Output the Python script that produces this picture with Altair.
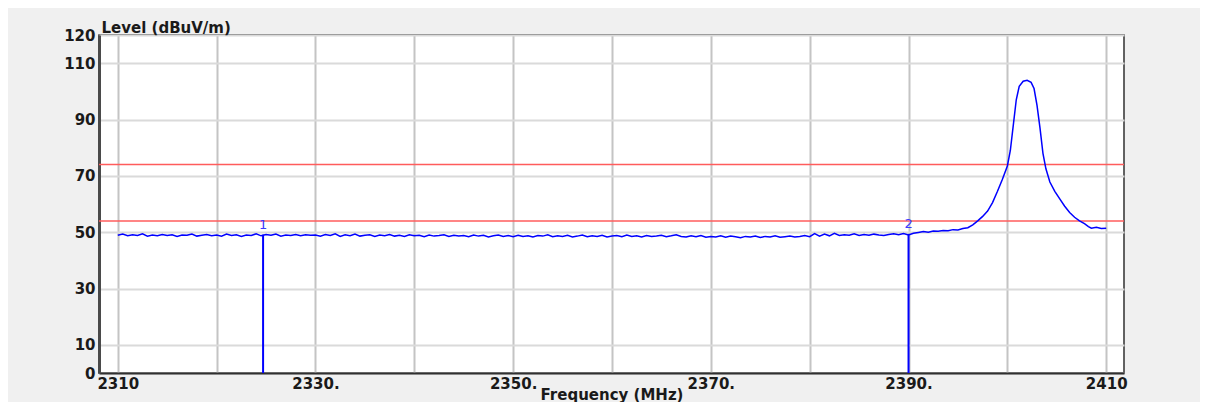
import altair as alt
import pandas as pd

# ---------------- data ----------------
# baseline trace, 2310.0 .. 2395.5 MHz every 0.5 MHz
base_start = 2310.0
base_step = 0.5
base_levels = [
    48.9, 49.3, 48.7, 49.1, 48.8, 49.4, 48.6, 49.0, 48.7, 49.2,
    48.8, 49.1, 48.5, 49.0, 48.9, 49.3, 48.6, 48.9, 49.2, 48.7,
    49.0, 48.6, 49.3, 48.8, 49.1, 48.5, 49.0, 48.8, 49.4, 48.7,
    49.2, 48.9, 49.3, 48.6, 49.0, 48.8, 49.2, 48.7, 49.1, 48.9,
    49.0, 48.6, 49.2, 48.8, 49.4, 48.5, 49.1, 48.7, 49.3, 48.6,
    48.9, 49.1, 48.5, 49.0, 48.7, 49.2, 48.6, 48.9, 48.5, 49.1,
    48.7, 48.9, 48.4, 49.0, 48.6, 48.8, 49.1, 48.5, 48.9, 48.6,
    48.8, 48.4, 49.0, 48.6, 48.9, 48.3, 48.7, 49.0, 48.5, 48.8,
    48.4, 48.9, 48.5, 48.7, 48.3, 48.8, 48.6, 49.1, 48.4, 48.7,
    48.5, 48.9, 48.3, 48.6, 49.0, 48.4, 48.7, 48.5, 48.9, 48.3,
    48.6, 48.8, 48.4, 49.0, 48.5, 48.7, 48.3, 48.8, 48.5, 48.6,
    48.9, 48.4, 48.7, 49.1, 48.5, 48.3, 48.7, 48.4, 48.8, 48.2,
    48.5, 48.3, 48.7, 48.2, 48.6, 48.4, 48.0, 48.5, 48.3, 48.6,
    48.1, 48.5, 48.3, 48.7, 48.2, 48.4, 48.6, 48.3, 48.5, 48.8,
    48.4, 49.5, 48.6, 49.3, 48.7, 49.6, 48.8, 49.1, 48.9, 49.4,
    48.8, 49.2, 48.9, 49.3, 49.0, 48.8, 49.2, 49.4, 49.1, 49.5,
    49.0, 49.6, 49.9, 50.2, 50.0, 50.4, 50.3, 50.6, 50.5, 50.9,
    50.8, 51.3,
]
# signal region
peak_freq = [2396.0, 2396.5, 2397.0, 2397.5, 2398.0, 2398.5, 2399.0, 2399.5,
             2400.0, 2400.3, 2400.6, 2400.9, 2401.2, 2401.6, 2402.0, 2402.4,
             2402.7, 2403.0, 2403.3, 2403.6, 2403.9, 2404.3, 2404.8, 2405.3,
             2405.8, 2406.3, 2406.8, 2407.3, 2407.8, 2408.2, 2408.5, 2409.0,
             2409.5, 2410.0]
peak_level = [51.6, 52.6, 54.0, 55.6, 57.5, 60.5, 64.5, 68.8,
              73.5, 79.0, 88.0, 97.0, 101.8, 103.6, 103.9, 103.2,
              101.0, 95.0, 87.0, 78.0, 72.5, 67.8, 64.5, 61.8,
              59.2, 57.0, 55.3, 54.0, 53.0, 52.0, 51.4, 51.7,
              51.3, 51.4]

limit_levels = [74, 54]

marker_names = ["1", "2"]
marker_freq = [2324.7, 2390.0]
marker_level = [49.1, 49.4]

x_grid_values = [2310, 2320, 2330, 2340, 2350, 2360, 2370, 2380, 2390, 2400, 2410]
x_label_values = [2310, 2330, 2350, 2370, 2390, 2410]
x_label_texts = ["2310", "2330.", "2350.", "2370.", "2390.", "2410"]
y_tick_values = [0, 10, 30, 50, 70, 90, 110, 120]

x_domain = [2308.1, 2411.8]
y_domain = [0, 120]

# ---------------- tables ----------------
freqs = [base_start + i * base_step for i in range(len(base_levels))] + peak_freq
levels = base_levels + peak_level
trace = pd.DataFrame({"f": freqs, "level": levels})
limits = pd.DataFrame({"level": limit_levels})
markers = pd.DataFrame({"name": marker_names, "f": marker_freq, "level": marker_level, "zero": [0, 0]})

label_expr = "''"
for v, t in zip(reversed(x_label_values), reversed(x_label_texts)):
    label_expr = f"datum.value == {v} ? '{t}' : ({label_expr})"

FONT = "DejaVu Sans"

xs = alt.Scale(domain=x_domain, nice=False, zero=False)
ys = alt.Scale(domain=y_domain, nice=False, zero=True)

x_axis = alt.Axis(
    values=x_grid_values, labelExpr=label_expr, ticks=False, labelOverlap=False,
    grid=True, gridColor="#c4c4c4", gridWidth=2,
    domainColor="#303030", domainWidth=2,
    labelFont=FONT, labelFontWeight="bold", labelFontSize=15, labelColor="#1a1a1a",
    labelPadding=3, labelFlush=False,
    title="Frequency (MHz)", titleFont=FONT, titleFontWeight="bold", titleFontSize=15,
    titleColor="#1a1a1a", titleY=26, titleBaseline="alphabetic",
)
y_axis = alt.Axis(
    values=y_tick_values, ticks=False, labelOverlap=False,
    grid=True, gridColor="#dadada", gridWidth=2,
    domainColor="#4a4a4a", domainWidth=3,
    labelFont=FONT, labelFontWeight="bold", labelFontSize=15, labelColor="#1a1a1a",
    labelPadding=4, labelFlush=False,
    title="Level (dBuV/m)", titleFont=FONT, titleFontWeight="bold", titleFontSize=15,
    titleColor="#1a1a1a", titleAngle=0, titleAlign="left", titleX=2, titleY=-3,
    titleBaseline="alphabetic",
)

base_layer = alt.Chart(trace).mark_line(color="#0000ff", strokeWidth=1.5).encode(
    x=alt.X("f:Q", scale=xs, axis=x_axis),
    y=alt.Y("level:Q", scale=ys, axis=y_axis),
)

limit_layer = alt.Chart(limits).mark_rule(color="#ff5c5c", strokeWidth=1.5).encode(
    y=alt.Y("level:Q", scale=ys),
)

marker_rules = alt.Chart(markers).mark_rule(color="#0000ff", strokeWidth=2).encode(
    x=alt.X("f:Q", scale=xs),
    y=alt.Y("zero:Q", scale=ys),
    y2="level:Q",
)
marker_text = alt.Chart(markers).mark_text(
    color="#3a3aff", font=FONT, fontSize=13, dy=-10
).encode(
    x=alt.X("f:Q", scale=xs),
    y=alt.Y("level:Q", scale=ys),
    text="name:N",
)

chart = alt.layer(limit_layer, base_layer, marker_rules, marker_text).properties(
    width=1025, height=338,
    autosize=alt.AutoSizeParams(type="none"),
    padding={"left": 91, "top": 27, "right": 76, "bottom": 29},
    background="#f0f0f0",
).configure_view(fill="white", stroke="#303030", strokeWidth=1.5)

chart.save("out.html", embed_options={"renderer": "svg", "actions": False})
